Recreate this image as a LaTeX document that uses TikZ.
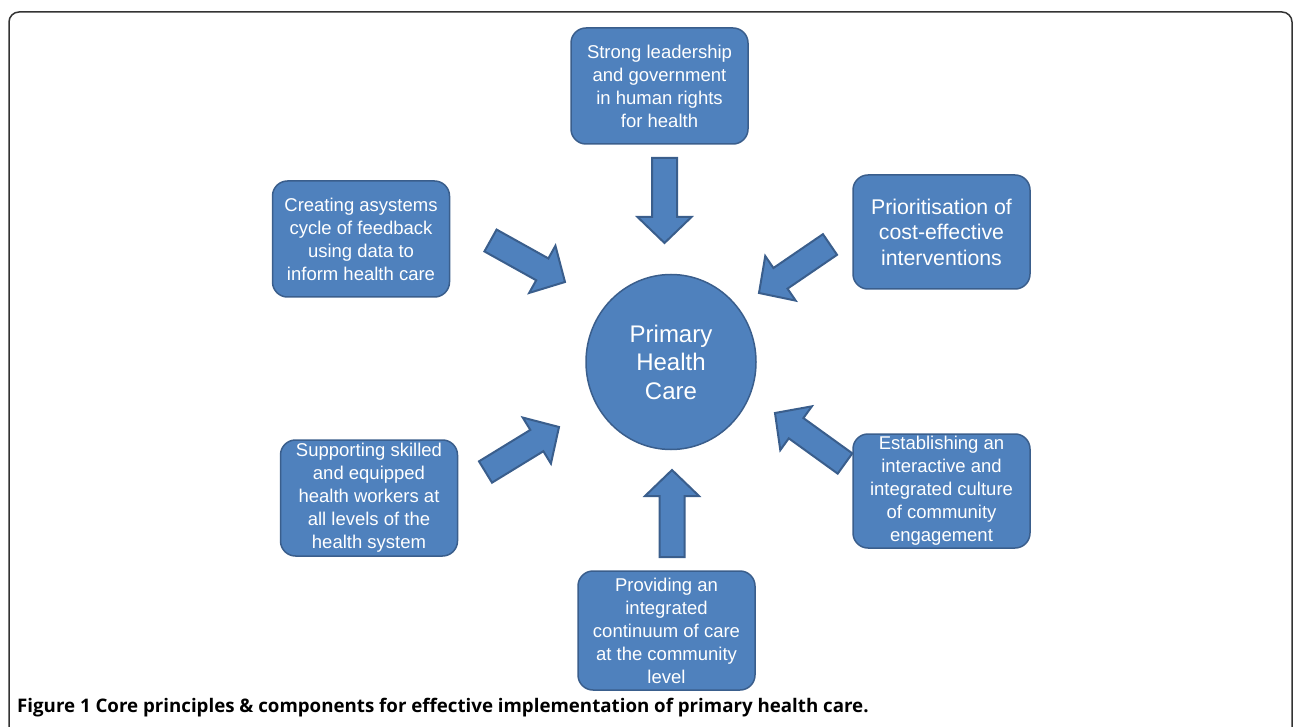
\documentclass[tikz,border=0pt]{standalone}
\usepackage{fontspec}
\setmainfont{Liberation Sans}
\newfontfamily\capfont{Open Sans}
\usetikzlibrary{calc,shapes.geometric}
\definecolor{boxblue}{HTML}{4F81BD}
\definecolor{boxedge}{HTML}{3A5E8C}
\definecolor{framegray}{HTML}{333333}

\tikzset{
  box/.style={draw=boxedge, fill=boxblue, line width=1.5pt, rounded corners=15pt,
    minimum width=177pt, minimum height=116pt, inner sep=0pt, align=center,
    text=white, font=\fontsize{18.5}{23}\selectfont},
  hub/.style={ellipse, draw=boxedge, fill=boxblue, line width=1.5pt,
    minimum width=170pt, minimum height=175pt, inner sep=0pt, align=center,
    text=white, font=\fontsize{24}{28.5}\selectfont},
  bigarrow/.style={draw=boxedge, fill=boxblue, line width=2pt, line join=miter,
    to path={($(\tikztotarget)!26pt!(\tikztostart)$) coordinate (ahb)
      ($(\tikztostart)!12.5pt!90:(\tikztotarget)$)
      -- ($(ahb)!12.5pt!90:(\tikztotarget)$)
      -- ($(ahb)!27pt!90:(\tikztotarget)$)
      -- (\tikztotarget)
      -- ($(ahb)!27pt!-90:(\tikztotarget)$)
      -- ($(ahb)!12.5pt!-90:(\tikztotarget)$)
      -- ($(\tikztostart)!12.5pt!-90:(\tikztotarget)$) -- cycle}}
}

\begin{document}
\begin{tikzpicture}[x=1pt,y=-1pt]
  \useasboundingbox (0,0) rectangle (1293,727);
  % outer frame
  \draw[framegray, line width=1.5pt, rounded corners=10pt] (9,745) |- (1292,12) -- (1292,745);

  % centre
  \node[hub] (phc) at (671,362) {Primary\\Health\\Care};

  % principles
  \node[box] (lead) at (659.5,86) {Strong leadership\\and government\\in human rights\\for health};
  \node[box] (feed) at (361,239) {Creating asystems\\cycle of feedback\\using data to\\inform health care};
  \node[box, minimum height=114pt, font=\fontsize{21.3}{25.5}\selectfont] (prio) at (941.5,232) {Prioritisation of\\cost-effective\\interventions};
  \node[box] (work) at (369,498) {Supporting skilled\\and equipped\\health workers at\\all levels of the\\health system};
  \node[box, minimum height=114pt] (engage) at (941.5,491) {Establishing an\\interactive and\\integrated culture\\of community\\engagement};
  \node[box, minimum height=119pt] (cont) at (666.5,630.5) {Providing an\\integrated\\continuum of care\\at the community\\level};

  % block arrows towards the centre
  \coordinate (a1s) at (664.5,158); \coordinate (a1e) at (664.5,243);
  \coordinate (a2s) at (490.5,240.5); \coordinate (a2e) at (565,282);
  \coordinate (a3s) at (830,244.5); \coordinate (a3e) at (759,293);
  \coordinate (a4s) at (485.5,472); \coordinate (a4e) at (559,427);
  \coordinate (a5s) at (845,463.5); \coordinate (a5e) at (775,413);
  \coordinate (a6s) at (672,557); \coordinate (a6e) at (672,470);
  \foreach \i in {1,...,6}
    \draw[bigarrow] (a\i s) to (a\i e);

  % caption
  \node[anchor=base west, inner sep=0pt, font=\capfont\bfseries\fontsize{18.7}{22}\selectfont] (cap) at (17,712)
    {Figure 1 Core principles \& components for effective implementation of primary health care.};
\end{tikzpicture}
\end{document}
